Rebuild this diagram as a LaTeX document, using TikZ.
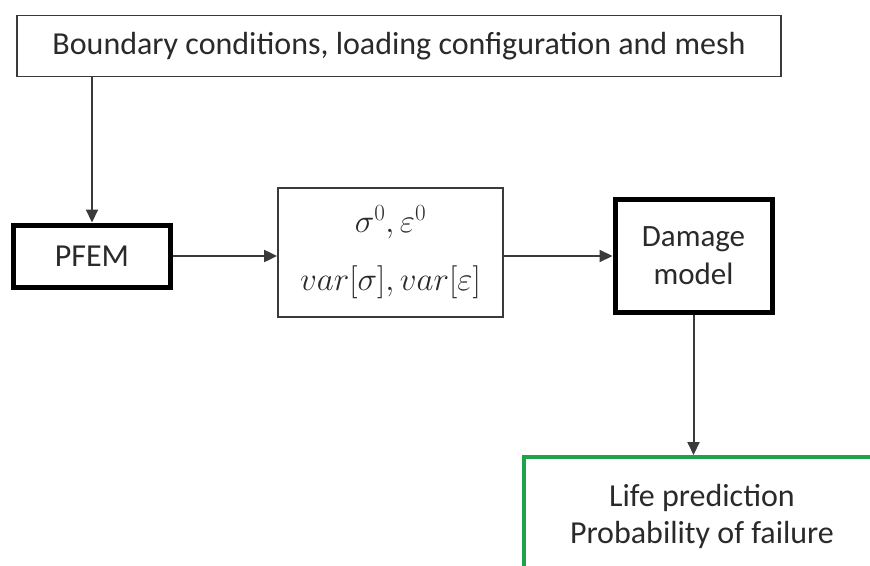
\RequirePackage{fix-cm}
\documentclass[tikz,border=0pt]{standalone}
\usepackage{fontspec}
\setmainfont{Carlito}
\usetikzlibrary{arrows.meta}
\definecolor{ink}{HTML}{2A2A2A}
\definecolor{edge}{HTML}{3A3A3A}
\definecolor{okgreen}{HTML}{1FA34A}
\begin{document}
\begin{tikzpicture}[x=1pt,y=-1pt,
  every node/.style={text=ink, align=center, inner sep=0pt},
  thinbox/.style={draw=edge, line width=1.8pt},
  boldbox/.style={draw=black, line width=5pt},
  greenbox/.style={draw=okgreen, line width=4pt},
  flow/.style={draw=edge, line width=2pt, -{Triangle[length=13pt,width=12pt]}}]
  \useasboundingbox (0,0) rectangle (870,565);
  \clip (0,0) rectangle (870,565);
  % input box
  \node[thinbox, minimum width=764pt, minimum height=61pt,
        font=\fontsize{32}{38}\selectfont] (bc) at (399,46)
    {Boundary conditions, loading configuration and mesh};
  % solver
  \node[boldbox, minimum width=157pt, minimum height=62pt,
        font=\fontsize{32}{38}\selectfont] (pfem) at (92,256) {PFEM};
  % stochastic response
  \node[thinbox, minimum width=225pt, minimum height=129pt,
        font=\fontsize{33}{58}\selectfont] (resp) at (390.5,252.5)
    {$\sigma^0, \varepsilon^0$\\ $var[\sigma], var[\varepsilon]$};
  % damage model
  \node[boldbox, minimum width=157pt, minimum height=113pt,
        font=\fontsize{31}{38}\selectfont] (dmg) at (693.5,255.5)
    {Damage\\model};
  % output
  \node[greenbox, minimum width=356pt, minimum height=118pt,
        font=\fontsize{32}{37}\selectfont] (life) at (702,516)
    {Life prediction\\Probability of failure};
  \coordinate (bcout) at (bc.south -| pfem.north);
  \path[flow] (bcout) -- (pfem.north);
  \path[flow] (pfem.east) -- (pfem.east -| resp.west);
  \path[flow] (resp.east |- pfem.east) -- (pfem.east -| dmg.west);
  \path[flow] (dmg.south) -- (dmg.south |- life.north);
\end{tikzpicture}
\end{document}
